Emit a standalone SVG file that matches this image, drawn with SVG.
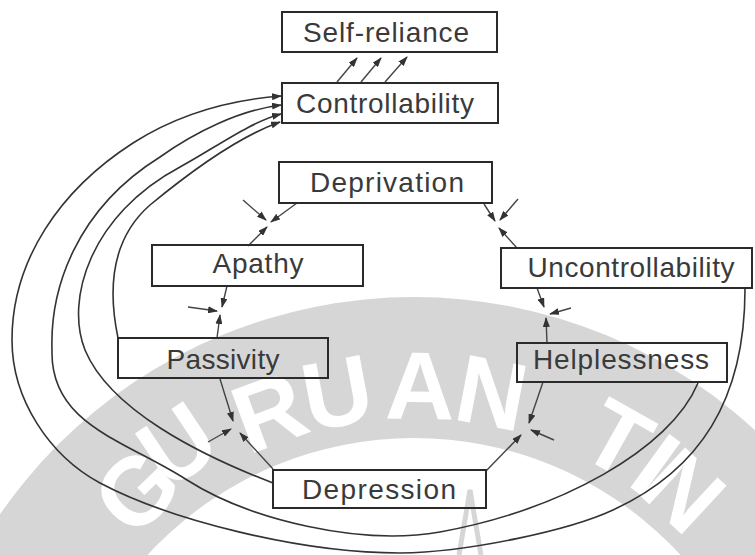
<svg xmlns="http://www.w3.org/2000/svg" width="755" height="555" viewBox="0 0 755 555">
  <style>
    .box { fill: none; stroke: #2a2a2a; stroke-width: 2; }
    .lbl { font-family: "Liberation Sans", Arial, sans-serif; font-size: 28px; fill: #3a3a3a; text-anchor: middle; }
    .arc { fill: none; stroke: #333; stroke-width: 1.6; }
    .ar { fill: none; stroke: #444; stroke-width: 1.4; marker-end: url(#ah); }
    .wm { font-family: "Liberation Sans", Arial, sans-serif; font-size: 96px; font-weight: bold; fill: #ffffff; text-anchor: middle; }
  </style>
  <defs>
    <marker id="ah" viewBox="0 0 10 7" refX="9" refY="3.5" markerWidth="10" markerHeight="7" markerUnits="userSpaceOnUse" orient="auto">
      <path d="M0,0 L10,3.5 L0,7 z" fill="#333"/>
    </marker>
  </defs>
  <rect width="755" height="555" fill="#ffffff"/>
  <g id="watermark">
    <path d="M-89,800 A503,503 0 0 1 917,800 L776,800 A362,362 0 0 0 52,800 Z" fill="#d6d6d6"/>
    <path d="M459,555 L470,490 L481,555" fill="none" stroke="#d6d6d6" stroke-width="5"/>
    <text class="wm" transform="translate(136,490) rotate(-44)" y="34">G</text>
    <text class="wm" transform="translate(177,444) rotate(-33.8)" y="34">U</text>
    <text class="wm" transform="translate(269,411) rotate(-20.4)" y="34">R</text>
    <text class="wm" transform="translate(337,392) rotate(-10.7)" y="34">U</text>
    <text class="wm" transform="translate(420,385) rotate(0.8)" y="34">A</text>
    <text class="wm" transform="translate(492,392) rotate(10.8)" y="34">N</text>
    <text class="wm" transform="translate(618,438) rotate(29.4)" y="34">T</text>
    <text class="wm" transform="translate(656,464) rotate(36)" y="34">I</text>
    <text class="wm" transform="translate(684,490) rotate(42.8)" y="34">N</text>
  </g>
  <g id="connectors">
    <path class="arc" marker-end="url(#ah)" d="M745,289 C745,400 700,470 613,510 C570,530 470,552 400,553 C300,553 170,520 100,483 C50,456 12,400 12,340 C12,260 60,190 133,143 C180,113 230,100 281,96"/>
    <path class="arc" marker-end="url(#ah)" d="M698,383 C670,450 560,510 440,532 C360,546 250,520 187,480 C125,440 50,425 52,350 C50,290 75,210 160,157 C195,132 240,110 281,105"/>
    <path class="arc" marker-end="url(#ah)" d="M273,483 C200,455 110,410 85,350 C65,300 90,215 180,167 C215,148 250,122 281,114"/>
    <path class="arc" marker-end="url(#ah)" d="M118,338 C108,290 110,240 150,205 C190,172 240,136 280,122"/>
    <line class="ar" x1="337" y1="82" x2="357" y2="58"/>
    <line class="ar" x1="361" y1="82" x2="381" y2="58"/>
    <line class="ar" x1="385" y1="82" x2="407" y2="57"/>
    <line class="ar" x1="297" y1="203" x2="271" y2="222"/>
    <line class="ar" x1="243" y1="200" x2="266" y2="220"/>
    <line class="ar" x1="248" y1="246" x2="267" y2="227"/>
    <line class="ar" x1="484" y1="204" x2="495" y2="221"/>
    <line class="ar" x1="518" y1="199" x2="500" y2="220"/>
    <line class="ar" x1="517" y1="248" x2="499" y2="228"/>
    <line class="ar" x1="227" y1="286" x2="222" y2="307"/>
    <line class="ar" x1="188" y1="307" x2="217" y2="311"/>
    <line class="ar" x1="217" y1="338" x2="220" y2="315"/>
    <line class="ar" x1="220" y1="379" x2="233" y2="421"/>
    <line class="ar" x1="208" y1="442" x2="231" y2="429"/>
    <line class="ar" x1="273" y1="469" x2="240" y2="433"/>
    <line class="ar" x1="537" y1="288" x2="544" y2="307"/>
    <line class="ar" x1="571" y1="308" x2="550" y2="314"/>
    <line class="ar" x1="547" y1="343" x2="546" y2="318"/>
    <line class="ar" x1="543" y1="382" x2="529" y2="423"/>
    <line class="ar" x1="554" y1="440" x2="531" y2="430"/>
    <line class="ar" x1="486" y1="471" x2="521" y2="435"/>
  </g>
  <g id="self-reliance">
    <rect class="box" x="282" y="12" width="215" height="40"/>
    <text class="lbl" x="386" y="42" textLength="166" lengthAdjust="spacing">Self-reliance</text>
  </g>
  <g id="controllability">
    <rect class="box" x="282" y="83" width="216" height="40"/>
    <text class="lbl" x="385" y="113" textLength="178" lengthAdjust="spacing">Controllability</text>
  </g>
  <g id="deprivation">
    <rect class="box" x="279" y="162" width="213" height="41"/>
    <text class="lbl" x="387" y="192" textLength="154" lengthAdjust="spacing">Deprivation</text>
  </g>
  <g id="apathy">
    <rect class="box" x="152" y="245" width="211" height="41"/>
    <text class="lbl" x="258" y="273" textLength="91" lengthAdjust="spacing">Apathy</text>
  </g>
  <g id="uncontrollability">
    <rect class="box" x="501" y="248" width="251" height="40"/>
    <text class="lbl" x="631" y="277" textLength="207" lengthAdjust="spacing">Uncontrollability</text>
  </g>
  <g id="passivity">
    <rect class="box" x="118" y="338" width="210" height="40"/>
    <text class="lbl" x="223" y="369" textLength="113" lengthAdjust="spacing">Passivity</text>
  </g>
  <g id="helplessness">
    <rect class="box" x="517" y="343" width="210" height="39"/>
    <text class="lbl" x="621" y="369" textLength="176" lengthAdjust="spacing">Helplessness</text>
  </g>
  <g id="depression">
    <rect class="box" x="273" y="470" width="213" height="38"/>
    <text class="lbl" x="379" y="499" textLength="154" lengthAdjust="spacing">Depression</text>
  </g>
</svg>
